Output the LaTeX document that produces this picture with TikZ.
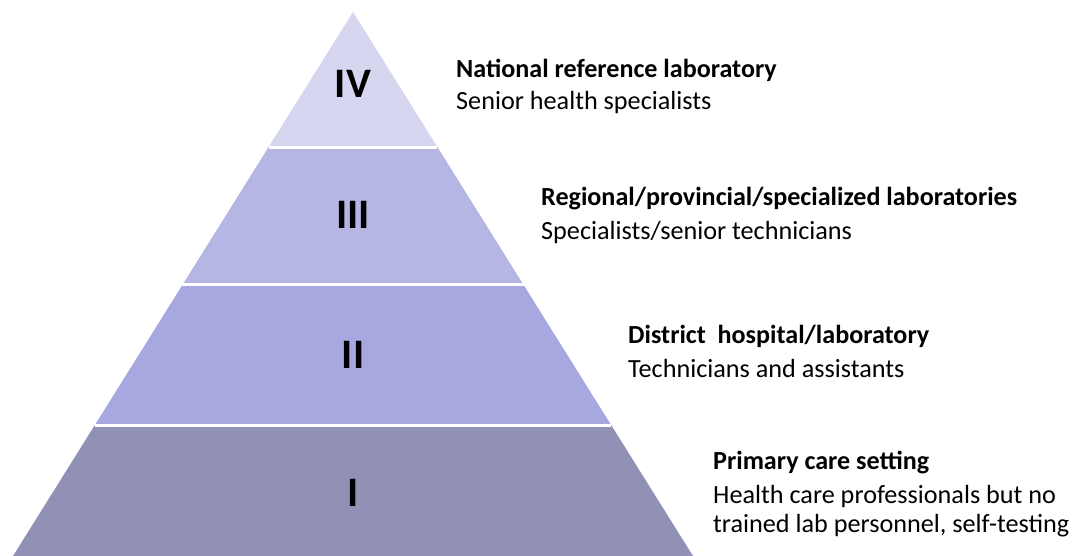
\documentclass[tikz,border=0pt]{standalone}
\usepackage{fontspec}
\setmainfont{Carlito}
\usetikzlibrary{calc}
\definecolor{cIV}{RGB}{214,214,240}
\definecolor{cIII}{RGB}{182,182,228}
\definecolor{cII}{RGB}{168,168,224}
\definecolor{cI}{RGB}{145,145,181}
\begin{document}
\begin{tikzpicture}[x=1pt,y=-1pt,
  title/.style={anchor=base west,font=\fontsize{26.1}{30}\selectfont\bfseries,inner sep=0},
  sub/.style={anchor=base west,font=\fontsize{26.2}{30}\selectfont,inner sep=0},
  roman/.style={anchor=base,font=\fontsize{42}{42}\selectfont\bfseries,inner sep=0},
  sep/.style={white,line width=3pt}]
\useasboundingbox[fill=white] (0,0) rectangle (1074,556);
\coordinate (A) at (353,12);
\coordinate (L) at (13,556);
\coordinate (R) at (693,556);
\foreach \n/\t in {a/0.2482,b/0.5018,c/0.7592}{
  \coordinate (L\n) at ($(A)!\t!(L)$);
  \coordinate (R\n) at ($(A)!\t!(R)$);
}
\fill[cIV] (A) -- (La) -- (Ra) -- cycle;
\fill[cIII] (La) -- (Lb) -- (Rb) -- (Ra) -- cycle;
\fill[cII] (Lb) -- (Lc) -- (Rc) -- (Rb) -- cycle;
\fill[cI] (Lc) -- (L) -- (R) -- (Rc) -- cycle;
\draw[sep] (La) -- (Ra);
\draw[sep] (Lb) -- (Rb);
\draw[sep] (Lc) -- (Rc);
\node[roman] (r4) at (353,98) {IV};
\node[roman] (r3) at (353,229) {III};
\node[roman] (r2) at (353,368) {II};
\node[roman] (r1) at (353,506) {I};
\node[title] (t4) at (456,78) {National reference laboratory};
\node[sub] (s4) at (456,110) {Senior health specialists};
\node[title] (t3) at (541,206) {Regional/provincial/specialized laboratories};
\node[sub] (s3) at (541,240) {Specialists/senior technicians};
\node[title] (t2) at (628,343) {District\ \ hospital/laboratory};
\node[sub] (s2) at (628,377) {Technicians and assistants};
\node[title] (t1) at (713,469) {Primary care setting};
\node[sub] (s1a) at (713,503) {Health care professionals but no};
\node[sub] (s1b) at (713,532) {trained lab personnel, self-testing};
\end{tikzpicture}
\end{document}
